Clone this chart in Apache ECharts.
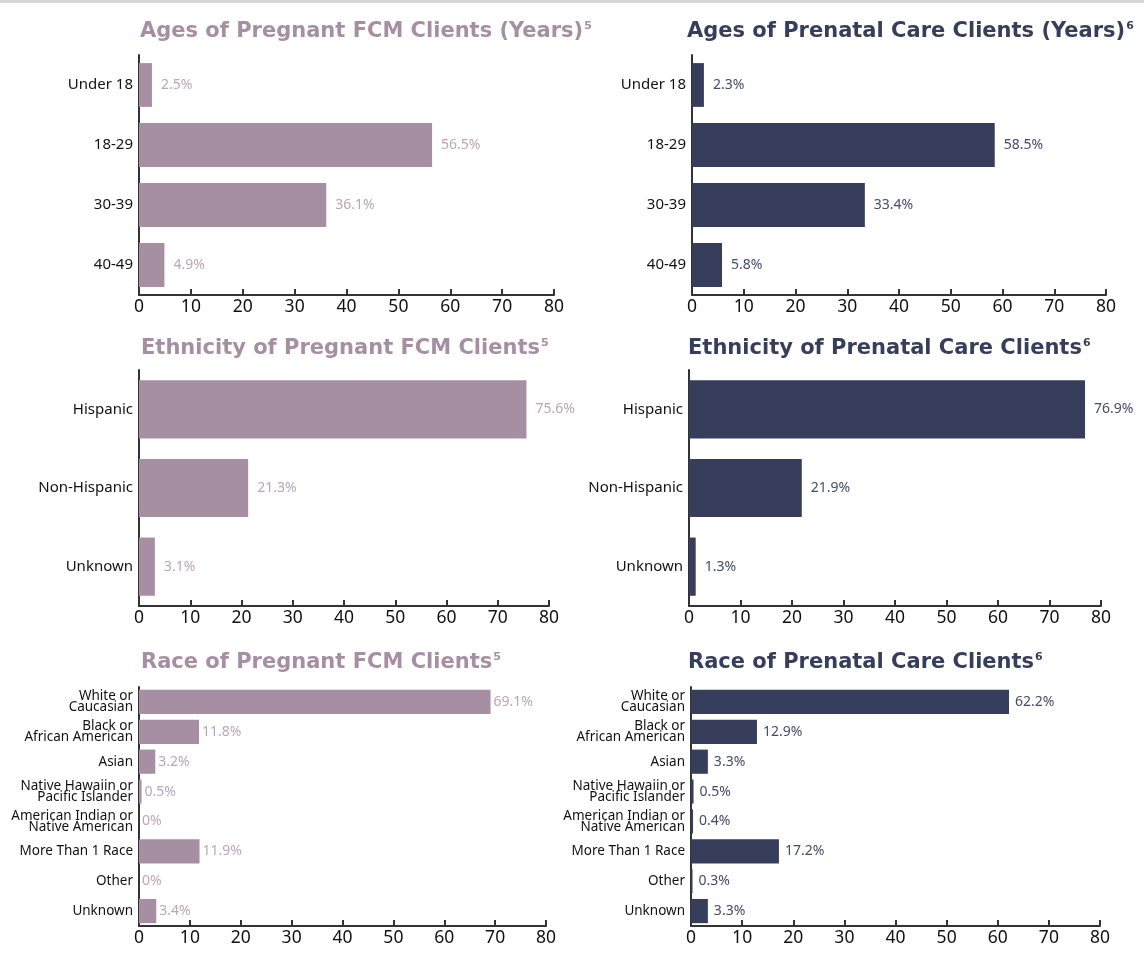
<!DOCTYPE html>
<html>
<head>
<meta charset="utf-8">
<script src="https://cdn.jsdelivr.net/npm/echarts@6/dist/echarts.min.js"></script>
<style>
  html, body { margin: 0; padding: 0; background: #fff; }
  #chart { width: 1144px; height: 959px; }
</style>
</head>
<body>
<div id="chart"></div>
<script>
// categories
var ageCats = ['Under 18', '18-29', '30-39', '40-49'];
var ethCats = ['Hispanic', 'Non-Hispanic', 'Unknown'];
var raceCats = ['White or\nCaucasian', 'Black or\nAfrican American', 'Asian',
  'Native Hawaiin or\nPacific Islander', 'American Indian or\nNative American',
  'More Than 1 Race', 'Other', 'Unknown'];

// values (%)
var fcmAges = [2.5, 56.5, 36.1, 4.9];
var prenatalAges = [2.3, 58.5, 33.4, 5.8];
var fcmEth = [75.6, 21.3, 3.1];
var prenatalEth = [76.9, 21.9, 1.3];
var fcmRace = [69.1, 11.8, 3.2, 0.5, 0, 11.9, 0, 3.4];
var prenatalRace = [62.2, 12.9, 3.3, 0.5, 0.4, 17.2, 0.3, 3.3];

// x axis ticks
var xTicks = [0, 10, 20, 30, 40, 50, 60, 70, 80];

var mauve = '#a78fa3';
var navy = '#373e5c';
var mauveLabel = '#bba5b8';
var navyLabel = '#454b68';

var panels = [
  { title: 'Ages of Pregnant FCM Clients (Years)', sup: '5', color: mauve, lab: mauveLabel,
    cats: ageCats, data: fcmAges, grid: [139, 55, 415, 240], gap: '27%', catSize: 15, dist: 9, tx: 135, ty: 16 },
  { title: 'Ages of Prenatal Care Clients (Years)', sup: '6', color: navy, lab: navyLabel,
    cats: ageCats, data: prenatalAges, grid: [692, 55, 414, 240], gap: '27%', catSize: 15, dist: 9, tx: 682, ty: 16 },
  { title: 'Ethnicity of Pregnant FCM Clients', sup: '5', color: mauve, lab: mauveLabel,
    cats: ethCats, data: fcmEth, grid: [139, 370, 410, 236], gap: '26%', catSize: 15, dist: 9, tx: 136, ty: 333 },
  { title: 'Ethnicity of Prenatal Care Clients', sup: '6', color: navy, lab: navyLabel,
    cats: ethCats, data: prenatalEth, grid: [689, 370, 412, 236], gap: '26%', catSize: 15, dist: 9, tx: 683, ty: 333 },
  { title: 'Race of Pregnant FCM Clients', sup: '5', color: mauve, lab: mauveLabel,
    cats: raceCats, data: fcmRace, grid: [139, 687, 407, 239], gap: '19%', catSize: 13.5, dist: 3, tx: 136, ty: 647 },
  { title: 'Race of Prenatal Care Clients', sup: '6', color: navy, lab: navyLabel,
    cats: raceCats, data: prenatalRace, grid: [691, 687, 409, 239], gap: '19%', catSize: 13.5, dist: 6, tx: 683, ty: 647 }
];

var titles = [], grids = [], xAxes = [], yAxes = [], series = [];
panels.forEach(function (p, i) {
  titles.push({
    text: '{t|' + p.title + '}{s|' + p.sup + '}',
    left: p.tx, top: p.ty,
    textStyle: {
      rich: {
        t: { fontFamily: 'DejaVu Sans', fontWeight: 'bold', fontSize: 21, color: p.color },
        s: { fontFamily: 'DejaVu Sans', fontWeight: 'bold', fontSize: 11, color: p.color, verticalAlign: 'top', padding: [0, 0, 0, 1] }
      }
    }
  });
  grids.push({ left: p.grid[0], top: p.grid[1], width: p.grid[2], height: p.grid[3], containLabel: false });
  xAxes.push({
    type: 'value', gridIndex: i, min: 0, max: 80, interval: 10,
    splitLine: { show: false },
    axisLine: { show: true, lineStyle: { color: '#333', width: 2 } },
    axisTick: { show: true, inside: true, length: 6, lineStyle: { color: '#333', width: 2 } },
    axisLabel: {
      margin: 3, color: '#111', fontSize: 17.5, fontFamily: 'Noto Sans',
      formatter: function (v) { return xTicks.indexOf(v) >= 0 ? String(v) : ''; }
    }
  });
  yAxes.push({
    type: 'category', gridIndex: i, data: p.cats, inverse: true,
    axisLine: { show: true, lineStyle: { color: '#333', width: 2 } },
    axisTick: { show: false },
    axisLabel: {
      margin: 6, color: '#111', fontSize: p.catSize, fontFamily: 'Noto Sans',
      lineHeight: p.catSize < 15 ? 11 : 18, align: 'right'
    }
  });
  series.push({
    type: 'bar', xAxisIndex: i, yAxisIndex: i, data: p.data,
    barCategoryGap: p.gap,
    itemStyle: { color: p.color },
    label: {
      show: true, position: 'right', distance: p.dist,
      color: p.lab, fontSize: 14, fontFamily: 'Noto Sans',
      formatter: '{c}%'
    }
  });
});

var chart = echarts.init(document.getElementById('chart'));
chart.setOption({
  animation: false,
  graphic: [{ type: 'rect', shape: { x: 0, y: 0, width: 1144, height: 3 }, style: { fill: '#d6d6d6' } }],
  title: titles,
  grid: grids,
  xAxis: xAxes,
  yAxis: yAxes,
  series: series
});
</script>
</body>
</html>
